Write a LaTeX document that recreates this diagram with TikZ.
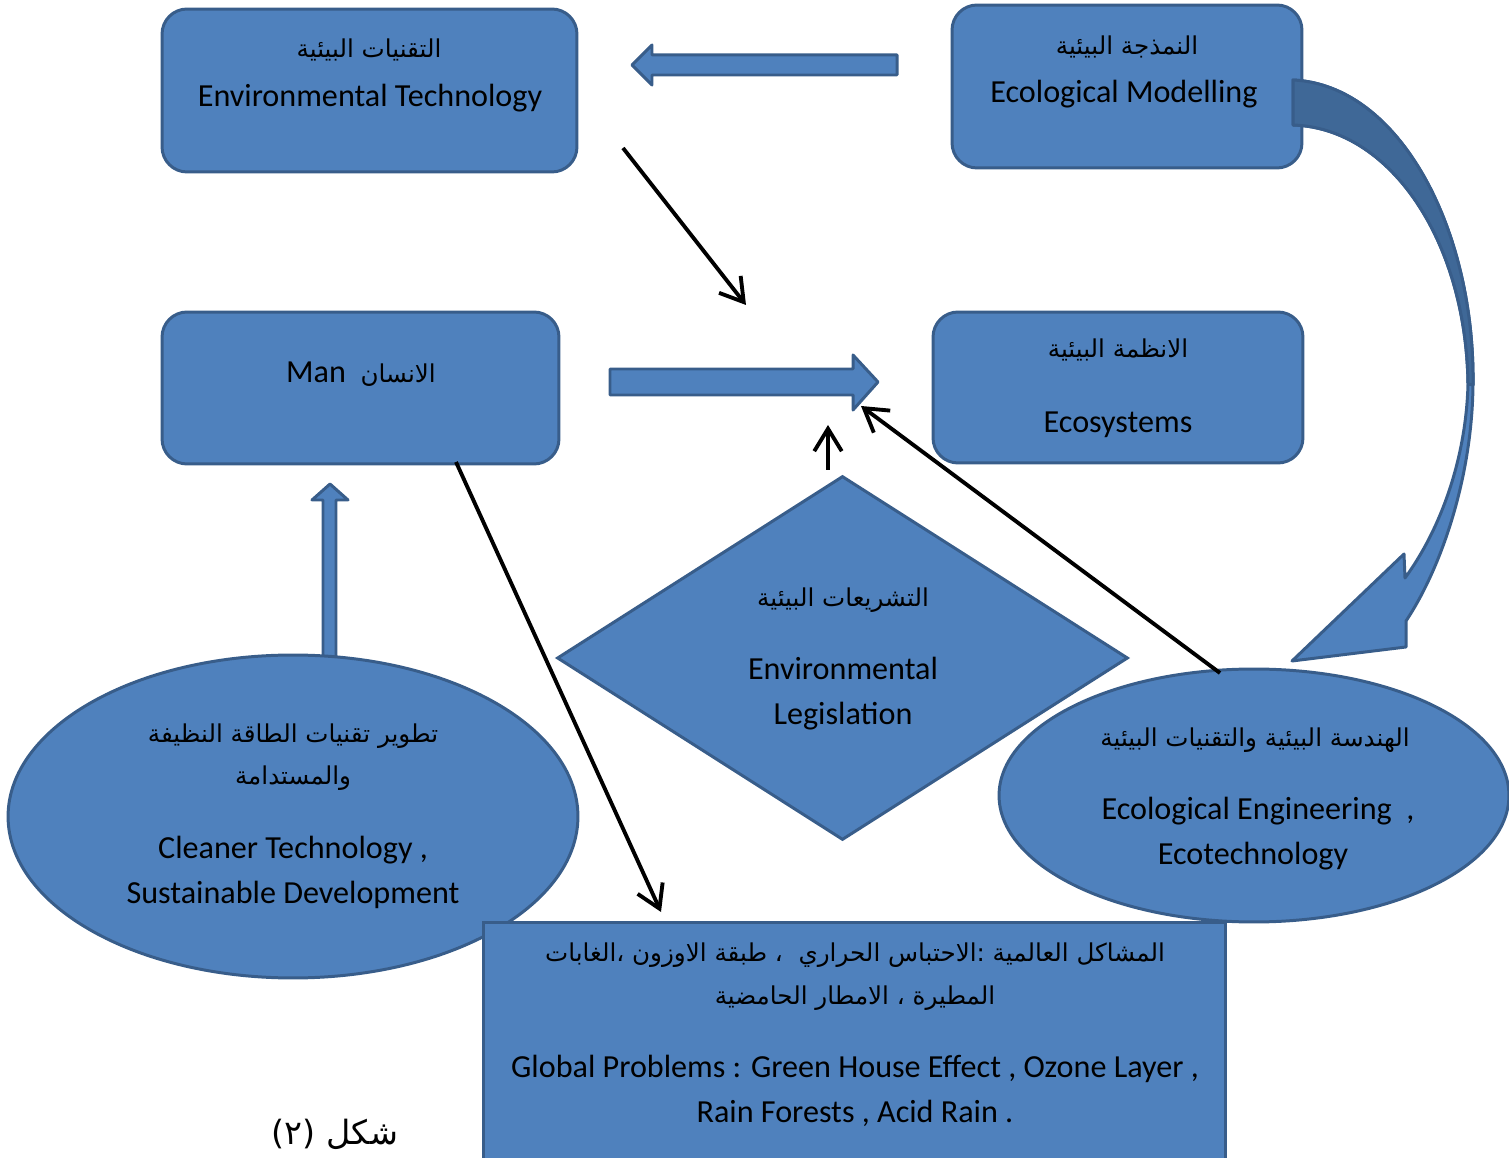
\documentclass[tikz,border=0pt]{standalone}
\usepackage{fontspec}
\setmainfont{Carlito}
\newfontfamily\arabicfont[Script=Arabic]{DejaVu Sans}
\TeXXeTstate=1
\usetikzlibrary{shapes.geometric,arrows.meta}
\definecolor{boxfill}{HTML}{4F81BD}
\definecolor{boxline}{HTML}{385D8A}
\definecolor{bendfill}{HTML}{3F6897}
\newcommand{\ar}[1]{{\arabicfont\beginR #1\endR}}
\tikzset{
	panel/.style={draw=boxline, fill=boxfill, line width=1.7pt, rounded corners=0.5cm},
	oval/.style={ellipse, draw=boxline, fill=boxfill, line width=1.7pt},
	txt/.style={anchor=mid, inner sep=0pt, font=\fontsize{18.3}{22}\selectfont},
	atxt/.style={anchor=mid, inner sep=0pt, font=\fontsize{14}{17}\selectfont},
	link/.style={line width=2.2pt, -{Straight Barb[length=0.45cm,width=0.55cm]}},
	fat/.style={draw=boxline, fill=boxfill, line width=1.7pt, line join=round},
}
\begin{document}
\begin{tikzpicture}[x=0.02cm, y=-0.02cm]
			\clip (0,0) rectangle (1509,1158);
			% block arrow behind the left ellipse
			\draw[fat] (323,662) -- (323,500) -- (312,500) -- (330,484) -- (348,500) -- (336,500) -- (336,662) -- cycle;
			\node[panel, minimum width=8.3cm, minimum height=3.26cm] (T) at (369.5,90.5) {};
			\node[panel, minimum width=7cm, minimum height=3.26cm] (O) at (1127,86.5) {};
			\node[panel, minimum width=7.94cm, minimum height=3.04cm] (M) at (360.5,388) {};
			\node[panel, minimum width=7.4cm, minimum height=3.02cm] (S) at (1118,387.5) {};
			\node[diamond, draw=boxline, fill=boxfill, line width=1.7pt, aspect=1.57, minimum width=11.42cm, minimum height=7.28cm] (L) at (842.5,658) {};
			\node[oval, minimum width=11.4cm, minimum height=6.46cm] (C) at (293,816.5) {};
			\node[oval, minimum width=10.2cm, minimum height=5.06cm] (E) at (1254,795.5) {};
			\node[draw=boxline, fill=boxfill, line width=1.7pt, minimum width=14.86cm, minimum height=5.16cm] (P) at (854.5,1051) {};
			% texts
			\node[atxt] (T1) at (369,53) {\ar{التقنيات البيئية}};
			\node[atxt] (O1) at (1127,50) {\ar{النمذجة البيئية}};
			\node[txt] (T2) at (370,102) {Environmental Technology};
			\node[txt] (O2) at (1124,98) {Ecological Modelling};
			\node[txt] (M1) at (361,378) {Man\ \ {\fontsize{14}{17}\selectfont\ar{الانسان}}};
			\node[atxt] (S1) at (1118,353) {\ar{الانظمة البيئية}};
			\node[txt] (S2) at (1118,428) {Ecosystems};
			\node[atxt] (L1) at (843,602) {\ar{التشريعات البيئية}};
			\node[txt] (L2) at (843,675) {Environmental};
			\node[txt] (L3) at (843,720) {Legislation};
			\node[atxt] (C1) at (293,738) {\ar{تطوير تقنيات الطاقة النظيفة}};
			\node[atxt] (C2) at (293,780) {\ar{والمستدامة}};
			\node[txt] (C3) at (293,854) {Cleaner Technology ,};
			\node[txt] (C4) at (293,899) {Sustainable Development};
			\node[atxt] (E1) at (1255,742) {\ar{الهندسة البيئية والتقنيات البيئية}};
			\node[txt] (E2) at (1258,815) {Ecological Engineering\ \ ,};
			\node[txt] (E3) at (1253,860) {Ecotechnology};
			\node[atxt] (P1) at (855,957) {\ar{المشاكل العالمية :الاحتباس الحراري \ ، طبقة الاوزون ،الغابات}};
			\node[atxt] (P2) at (855,1000) {\ar{المطيرة ، الامطار الحامضية}};
			\node[txt] (P3) at (855,1073) {Global Problems : Green House Effect , Ozone Layer ,};
			\node[txt] (P4) at (855,1118) {Rain Forests , Acid Rain .};
			\node[anchor=mid, inner sep=0pt, font=\fontsize{19}{22}\selectfont] (K) at (335,1140) {\ar{شكل (٢)}};
			% block arrows
			\draw[fat] (897,55) -- (652,55) -- (652,45) -- (632,65) -- (652,85) -- (652,75) -- (897,75) -- cycle;
			\draw[fat] (610,369) -- (853,369) -- (853,355) -- (878,382) -- (853,410) -- (853,395) -- (610,395) -- cycle;
			% curved arrow
			\draw[fat] (1293,80) .. controls (1400,85) and (1475,230) .. (1473,385)
				.. controls (1472,480) and (1440,570) .. (1406,621) -- (1406,647) -- (1292,661) -- (1404,554) -- (1405,578)
				.. controls (1440,530) and (1466,460) .. (1468,384)
				.. controls (1466,240) and (1390,128) .. (1293,125) -- cycle;
			\draw[fat, fill=bendfill] (1293,80) .. controls (1400,85) and (1475,230) .. (1473,385)
				-- (1468,384) .. controls (1466,240) and (1390,128) .. (1293,125) -- cycle;
			% line arrows
			\coordinate (t1) at (623,148);
			\coordinate (t2) at (746,305);
			\coordinate (m1) at (456,462);
			\coordinate (p1) at (661,912);
			\coordinate (l1) at (828,470);
			\coordinate (l2) at (828,425);
			\coordinate (e1) at (1220,673);
			\coordinate (s1) at (861,406);
			\draw[link] (t1) -- (t2);
			\draw[link] (m1) -- (p1);
			\draw[link] (l1) -- (l2);
			\draw[link] (e1) -- (s1);
\end{tikzpicture}
\end{document}
